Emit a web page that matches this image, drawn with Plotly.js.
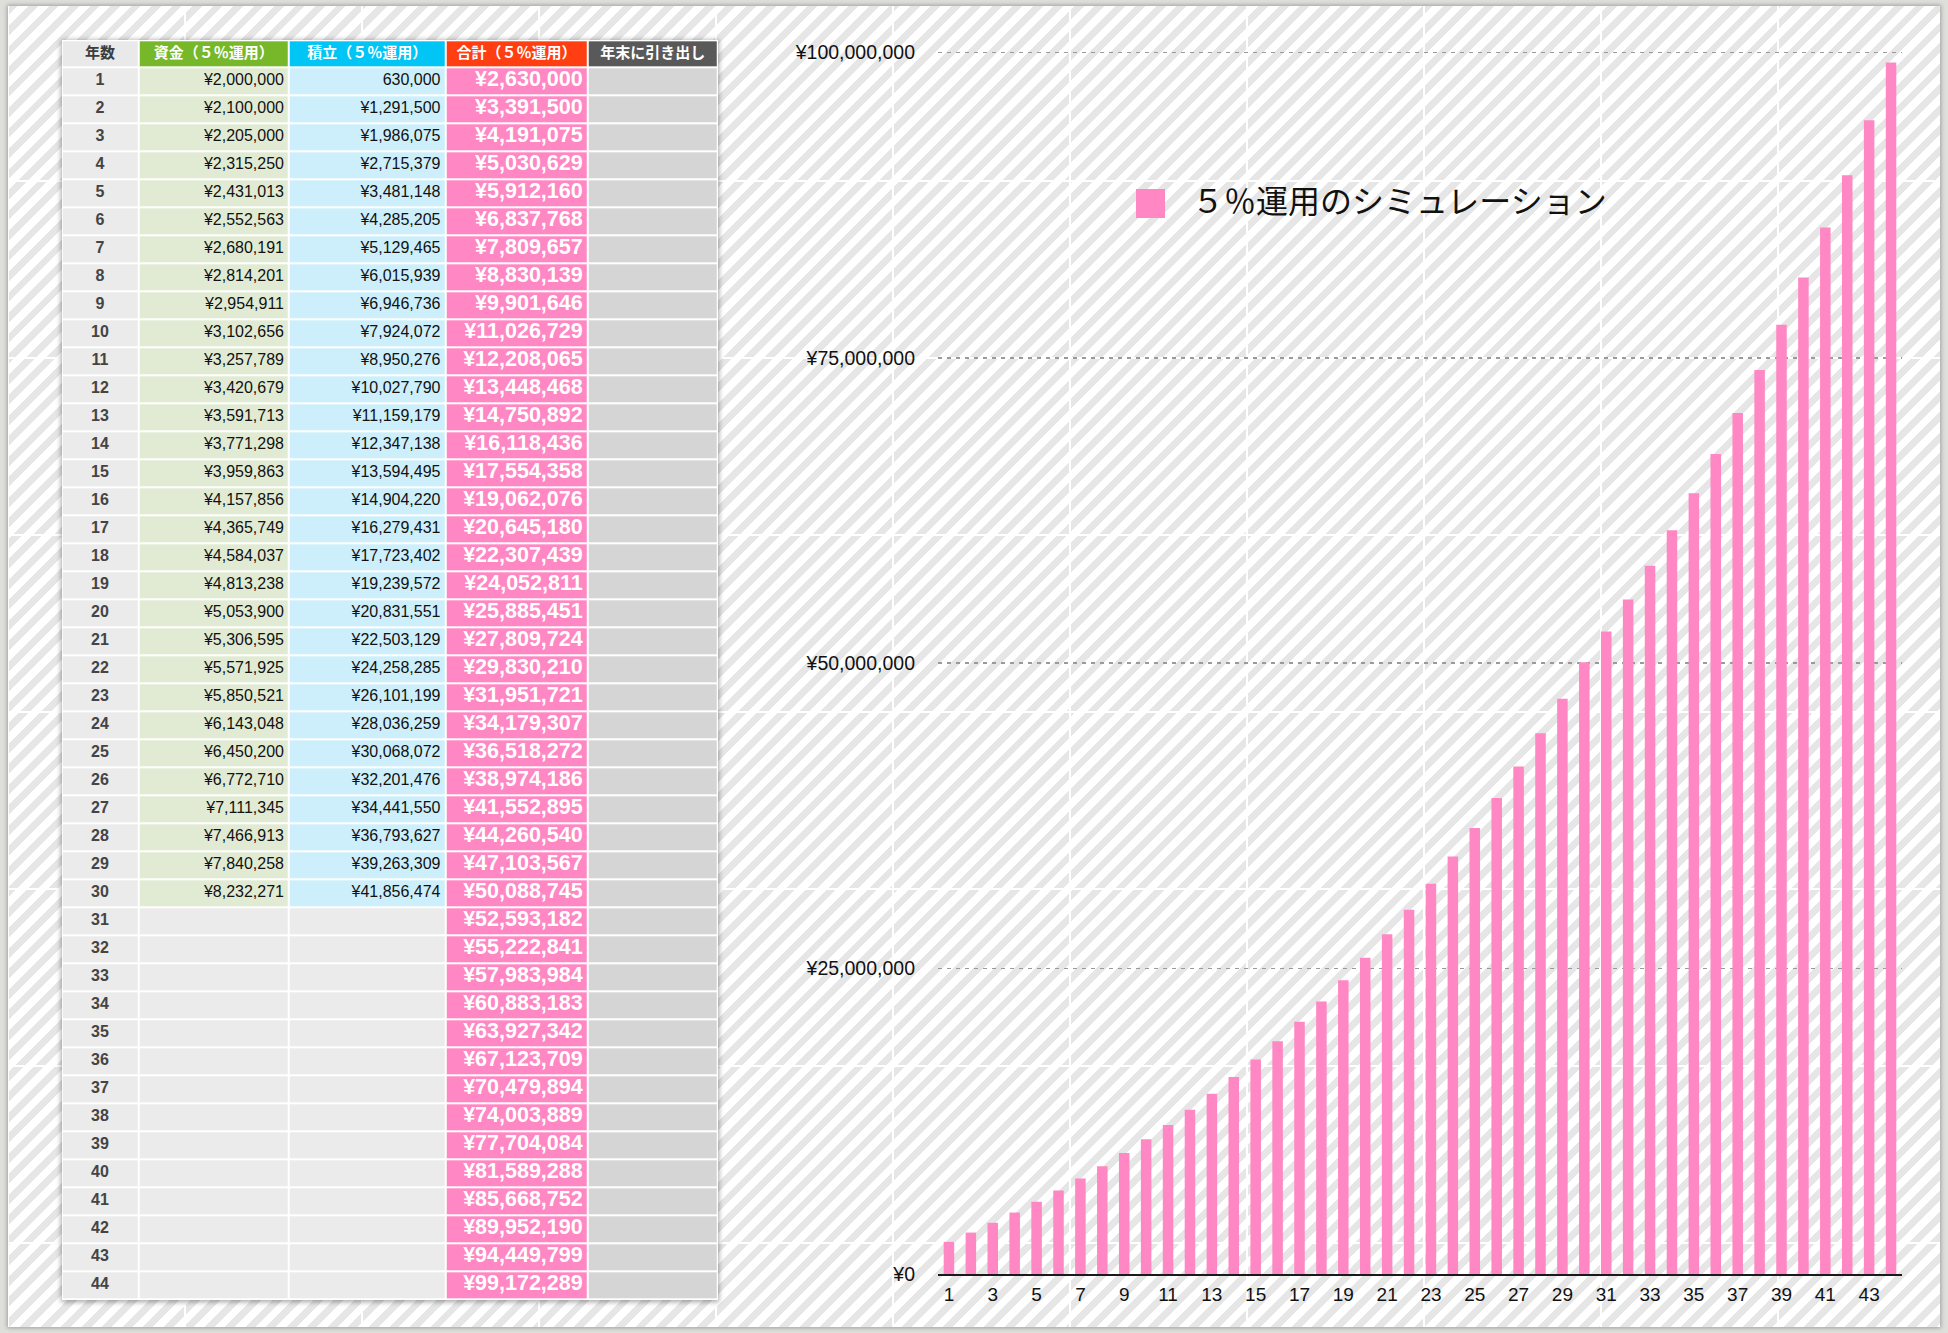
<!DOCTYPE html>
<html>
<head>
<meta charset="utf-8">
<script src="https://cdn.plot.ly/plotly-3.0.1.min.js"></script>
<style>
  html, body { margin:0; padding:0; width:1948px; height:1333px; overflow:hidden; background:#dededa; }
  #frame {
    position:absolute; left:8px; top:6px; width:1932px; height:1321px;
    box-shadow: 0 0 4px 1px rgba(0,0,0,0.28);
    background-color:#ffffff;
    background-image:
      linear-gradient(90deg, #ffffff 0 2px, transparent 2px),
      linear-gradient(180deg, #ffffff 0 2px, transparent 2px),
      repeating-linear-gradient(135deg, #e6e6e6 0 7px, #ffffff 7px 14.5px);
    background-size: 177px 100%, 100% 177px, auto;
    background-position: 176px 0, 0 174px, 0 0;
  }
  #tableback {
    position:absolute; left:61.7px; top:40.3px; width:656px; height:1260px;
    background:#ffffff; box-shadow: 0 1px 5px 1px rgba(0,0,0,0.35);
  }
  #chart { position:absolute; left:0; top:0; width:1948px; height:1333px; }
</style>
</head>
<body>
<div id="frame"></div>
<div id="tableback"></div>
<div id="chart"></div>
<script>
// ---------------- data ----------------
const years = [1,2,3,4,5,6,7,8,9,10,11,12,13,14,15,16,17,18,19,20,21,22,23,24,25,26,27,28,29,30,31,32,33,34,35,36,37,38,39,40,41,42,43,44];
const shikin = [2000000,2100000,2205000,2315250,2431013,2552563,2680191,2814201,2954911,3102656,3257789,3420679,3591713,3771298,3959863,4157856,4365749,4584037,4813238,5053900,5306595,5571925,5850521,6143048,6450200,6772710,7111345,7466913,7840258,8232271];
const tsumitate = [630000,1291500,1986075,2715379,3481148,4285205,5129465,6015939,6946736,7924072,8950276,10027790,11159179,12347138,13594495,14904220,16279431,17723402,19239572,20831551,22503129,24258285,26101199,28036259,30068072,32201476,34441550,36793627,39263309,41856474];
const tsumitateNoYenRows = [1];
const goukei = [2630000,3391500,4191075,5030629,5912160,6837768,7809657,8830139,9901646,11026729,12208065,13448468,14750892,16118436,17554358,19062076,20645180,22307439,24052811,25885451,27809724,29830210,31951721,34179307,36518272,38974186,41552895,44260540,47103567,50088745,52593182,55222841,57983984,60883183,63927342,67123709,70479894,74003889,77704084,81589288,85668752,89952190,94449799,99172289];
const hikidashi = [];
const tableHeaders = ['年数','資金（５％運用）','積立（５％運用）','合計（５％運用）','年末に引き出し'];
const seriesName = '５％運用のシミュレーション';
const yTickVals = [0, 25000000, 50000000, 75000000, 100000000];
const yTickPrefix = '¥';
const xTickStep = 2;

// ---------------- layout constants ----------------
const W = 1948, H = 1333;
const px = x => x / W;
const py = y => 1 - y / H;
const PINK = '#ff87c3';
const NUMFONT = '"Liberation Sans", Arial, Helvetica, sans-serif';
const JPFONT = '"Noto Sans CJK JP", "Noto Sans", sans-serif';

// table geometry (pixels)
const tLeft = 61.7, tTop = 40.3;
const colW = [76.6, 150.7, 156.5, 142.2, 130.1];
const headerH = 27, rowH = 28;
const colEdges = [0];
colW.forEach(w => colEdges.push(colEdges[colEdges.length - 1] + w));
const tWidth = colEdges[colEdges.length - 1];
const rowEdges = [0, headerH];
years.forEach(() => rowEdges.push(rowEdges[rowEdges.length - 1] + rowH));
const tHeight = rowEdges[rowEdges.length - 1];

// cell colours
const cellColors = ['#ebebeb', '#e1ebd4', '#cdeffb', PINK, '#d5d5d5',
                    '#e9e9e9', '#76b82a', '#00c5f5', '#ff3e12', '#595959'];
const nC = cellColors.length;
const discreteScale = [];
cellColors.forEach((c, k) => { discreteScale.push([k / nC, c]); discreteScale.push([(k + 1) / nC, c]); });

const z = [[5, 6, 7, 8, 9]];
years.forEach((yr, i) => {
  z.push([0, shikin[i] != null ? 1 : 0, tsumitate[i] != null ? 2 : 0, goukei[i] != null ? 3 : 0, 4]);
});

const fmt = v => v.toLocaleString('en-US');
const rowCenters = years.map((yr, i) => rowEdges[i + 1] + rowH / 2);
const colCenter = k => (colEdges[k] + colEdges[k + 1]) / 2;
const rightPad = 5;

const traces = [];

// chart bars
traces.push({
  type: 'bar', x: years, y: goukei, name: seriesName,
  marker: { color: PINK }, hoverinfo: 'skip', showlegend: false,
  xaxis: 'x', yaxis: 'y'
});

// table backgrounds
traces.push({
  type: 'heatmap', x: colEdges, y: rowEdges, z: z,
  zmin: -0.5, zmax: nC - 0.5, colorscale: discreteScale, showscale: false,
  xgap: 2, ygap: 2, hoverinfo: 'skip', xaxis: 'x2', yaxis: 'y2'
});

// header text
traces.push({
  type: 'scatter', mode: 'text', xaxis: 'x2', yaxis: 'y2', hoverinfo: 'skip', showlegend: false, cliponaxis: false,
  x: tableHeaders.map((h, k) => colCenter(k)), y: tableHeaders.map(() => headerH / 2),
  text: tableHeaders, textposition: 'middle center',
  textfont: { family: JPFONT, size: 15, weight: 'bold', color: ['#3c3c3c', '#ffffff', '#ffffff', '#ffffff', '#ffffff'] }
});

// year column
traces.push({
  type: 'scatter', mode: 'text', xaxis: 'x2', yaxis: 'y2', hoverinfo: 'skip', showlegend: false, cliponaxis: false,
  x: years.map(() => colCenter(0)), y: rowCenters, text: years.map(String), textposition: 'middle center',
  textfont: { family: NUMFONT, size: 16, weight: 'bold', color: '#444444' }
});

// shikin column
traces.push({
  type: 'scatter', mode: 'text', xaxis: 'x2', yaxis: 'y2', hoverinfo: 'skip', showlegend: false, cliponaxis: false,
  x: shikin.map(() => colEdges[2] - rightPad), y: shikin.map((v, i) => rowCenters[i]),
  text: shikin.map(v => '¥' + fmt(v)), textposition: 'middle left',
  textfont: { family: NUMFONT, size: 16, color: '#111111' }
});

// tsumitate column
traces.push({
  type: 'scatter', mode: 'text', xaxis: 'x2', yaxis: 'y2', hoverinfo: 'skip', showlegend: false, cliponaxis: false,
  x: tsumitate.map(() => colEdges[3] - rightPad), y: tsumitate.map((v, i) => rowCenters[i]),
  text: tsumitate.map((v, i) => (tsumitateNoYenRows.includes(years[i]) ? '' : '¥') + fmt(v)), textposition: 'middle left',
  textfont: { family: NUMFONT, size: 16, color: '#111111' }
});

// goukei column
traces.push({
  type: 'scatter', mode: 'text', xaxis: 'x2', yaxis: 'y2', hoverinfo: 'skip', showlegend: false, cliponaxis: false,
  x: goukei.map(() => colEdges[4] - rightPad), y: goukei.map((v, i) => rowCenters[i] - 1),
  text: goukei.map(v => '¥' + fmt(v)), textposition: 'middle left',
  textfont: { family: NUMFONT, size: 21.5, weight: 'bold', color: '#ffffff' }
});

// chart geometry
const plotL = 938, plotR = 1902, zeroY = 1274, topTickY = 52.5;
const yMax = 100300000;
const pxPerUnit = (zeroY - topTickY) / yTickVals[yTickVals.length - 1];
const plotTop = zeroY - yMax * pxPerUnit;

const layout = {
  width: W, height: H,
  margin: { l: 0, r: 0, t: 0, b: 0, pad: 0 },
  paper_bgcolor: 'rgba(0,0,0,0)', plot_bgcolor: 'rgba(0,0,0,0)',
  showlegend: false,
  bargap: 0.52,
  font: { family: NUMFONT, color: '#111111' },
  xaxis: {
    domain: [px(plotL), px(plotR)], range: [years[0] - 0.5, years[years.length - 1] + 0.5],
    tick0: years[0], dtick: xTickStep, showgrid: false, zeroline: false,
    showline: true, linecolor: '#1a1a1a', linewidth: 2, ticks: '',
    tickfont: { family: NUMFONT, size: 19, color: '#111111' }, ticklabelstandoff: 2,
    fixedrange: true, anchor: 'y'
  },
  yaxis: {
    domain: [py(zeroY), py(plotTop)], range: [0, yMax],
    tickmode: 'array', tickvals: yTickVals, ticktext: yTickVals.map(v => yTickPrefix + fmt(v)),
    showgrid: true, gridcolor: '#9a9a9a', gridwidth: 1.5, griddash: '4px,5px',
    zeroline: false, showline: false, ticks: '',
    tickfont: { family: NUMFONT, size: 19.5, color: '#111111' }, ticklabelstandoff: 22,
    fixedrange: true, anchor: 'x'
  },
  xaxis2: {
    domain: [px(tLeft), px(tLeft + tWidth)], range: [0, tWidth], visible: false, fixedrange: true, anchor: 'y2'
  },
  yaxis2: {
    domain: [py(tTop + tHeight), py(tTop)], range: [tHeight, 0], visible: false, fixedrange: true, anchor: 'x2'
  },
  shapes: [{
    type: 'rect', xref: 'paper', yref: 'paper',
    x0: px(1136), x1: px(1165), y0: py(218), y1: py(189),
    fillcolor: PINK, line: { width: 0 }
  }],
  annotations: [{
    xref: 'paper', yref: 'paper', x: px(1190), y: py(199), xanchor: 'left', yanchor: 'middle',
    text: seriesName, showarrow: false,
    font: { family: JPFONT, size: 32, color: '#111111' }
  }]
};

Plotly.newPlot('chart', traces, layout, { displayModeBar: false, staticPlot: true });
</script>
</body>
</html>
